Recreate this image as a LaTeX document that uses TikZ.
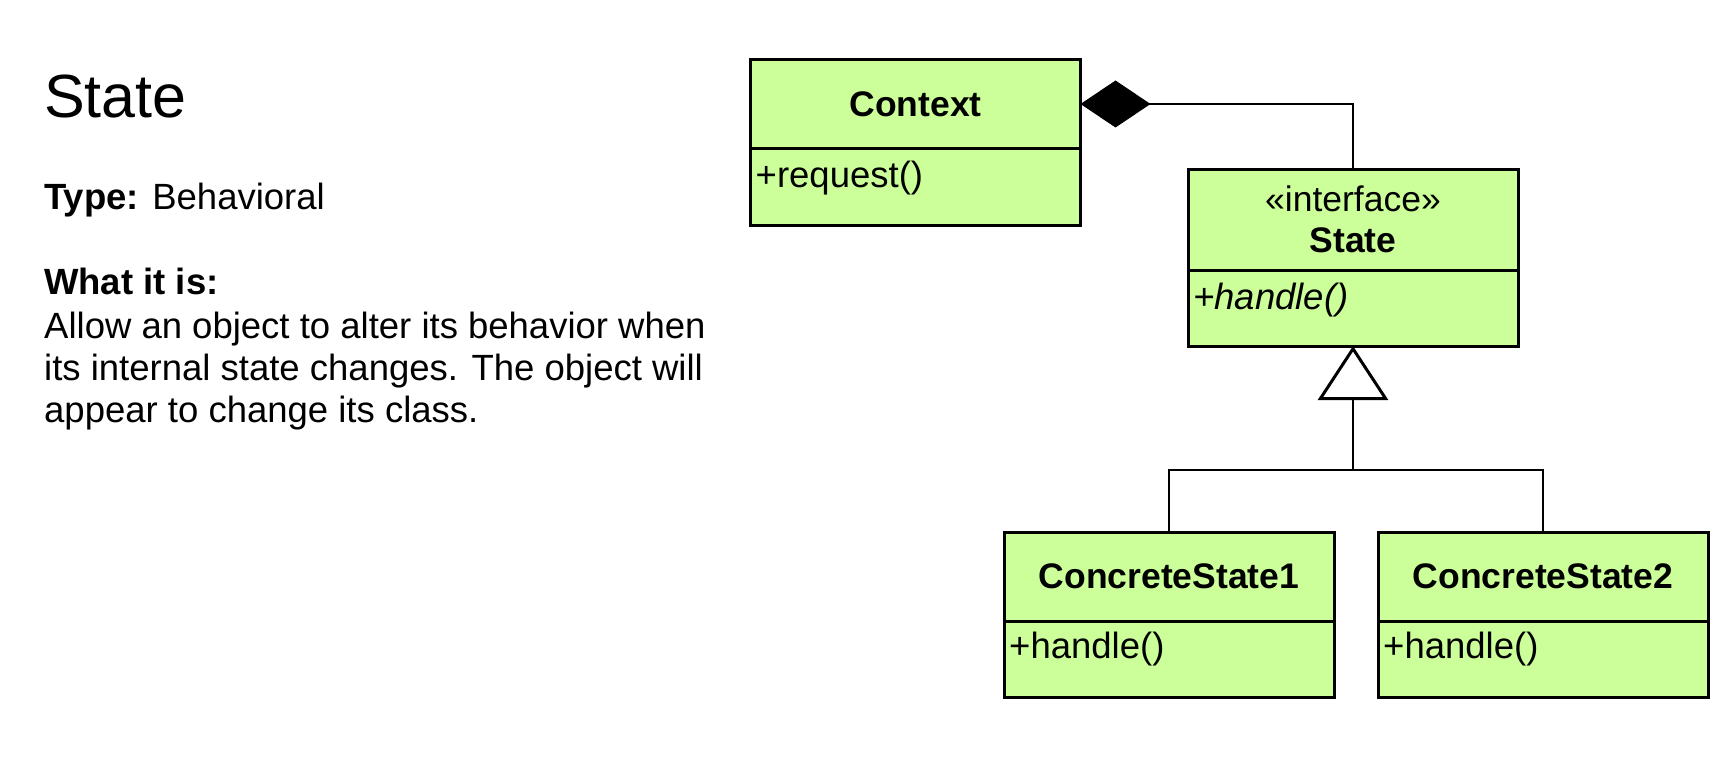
\documentclass[tikz,border=0pt]{standalone}
\usepackage{fontspec}
\setmainfont{Liberation Sans}
\usetikzlibrary{positioning,arrows.meta}
\definecolor{classfill}{HTML}{CCFF99}
\tikzset{
  classbox/.style={draw, fill=classfill, line width=3pt, minimum width=330pt, inner sep=0pt, outer sep=0pt},
  classhead/.style={classbox, font=\fontsize{35.5pt}{41pt}\selectfont\bfseries, align=center},
  classops/.style={classbox, minimum height=76pt},
  optext/.style={font=\fontsize{36.5pt}{41pt}\selectfont, inner sep=0pt, anchor=base west},
  link/.style={draw, line width=2pt},
  infotext/.style={font=\fontsize{36.5pt}{42pt}\selectfont, inner sep=0pt, anchor=base west, align=left}
}
\begin{document}
\begin{tikzpicture}[x=1pt,y=-1pt]
  \useasboundingbox[fill=white] (0,0) rectangle (1734,757);
  % description
  \node[infotext, font=\fontsize{61pt}{70pt}\selectfont] (title) at (44,118) {State};
  \node[infotext] (kind) at (44,209) {\textbf{Type:} Behavioral};
  \node[infotext] (whathead) at (44,294) {\textbf{What it is:}};
  \node[infotext] (whattext) at (44,422) {Allow an object to alter its behavior when\\its internal state changes. The object will\\appear to change its class.};
  % classes
  \node[classhead, minimum height=88pt] (ctxhead) at (915.5,104) {Context};
  \node[classops, minimum height=77pt, below=0pt of ctxhead] (ctxops) {};
  \node[optext] (ctxop) at ([xshift=5pt,yshift=-39pt]ctxops.north west) {+request()};
  \node[classhead, minimum height=101pt] (statehead) at (1353,219.5) {{\mdseries «interface»}\\\textbf{State}};
  \node[classops, below=0pt of statehead] (stateops) {};
  \node[optext] (stateop) at ([xshift=5pt,yshift=-39pt]stateops.north west) {\itshape +handle()};
  \node[classhead, minimum height=89pt] (cs1head) at (1169,576.5) {ConcreteState1};
  \node[classops, below=0pt of cs1head] (cs1ops) {};
  \node[optext] (cs1op) at ([xshift=5pt,yshift=-37pt]cs1ops.north west) {+handle()};
  \node[classhead, minimum height=89pt] (cs2head) at (1543,576.5) {ConcreteState2};
  \node[classops, below=0pt of cs2head] (cs2ops) {};
  \node[optext] (cs2op) at ([xshift=5pt,yshift=-37pt]cs2ops.north west) {+handle()};
  % relations
  \draw[link, {Diamond[length=70pt,width=47pt]}-] (ctxhead.east) -| (statehead.north);
  \coordinate (fork) at (1353,470);
  \draw[link, {Triangle[open,length=54pt,width=70pt,line width=3pt]}-] (stateops.south) -- (fork);
  \draw[link] (cs1head.north) |- (fork) -| (cs2head.north);
\end{tikzpicture}
\end{document}
